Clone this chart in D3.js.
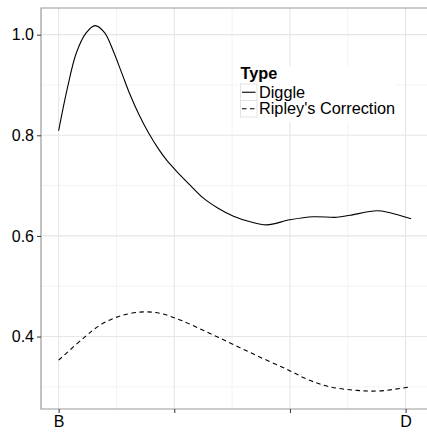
<!DOCTYPE html>
<html>
<head>
<meta charset="utf-8">
<script src="https://cdn.jsdelivr.net/npm/d3@7"></script>
<style>
  html, body { margin: 0; background: #fff; overflow: hidden; }
  svg { display: block; }
  text { font-family: "Liberation Sans", Arial, sans-serif; }
</style>
</head>
<body>
<svg id="chart" width="427" height="432"></svg>
<script>
// x positions are in category units: B = 0 ... D = 3
const xTicks = [0, 1, 2, 3];
const xTickLabels = ["B", "", "", "D"];
const yTicks = [0.4, 0.6, 0.8, 1.0];

const diggleX = [0, 0.077, 0.152, 0.236, 0.316, 0.397, 0.475, 0.547, 0.619, 0.691, 0.777, 0.863,
  0.936, 1.022, 1.137, 1.252, 1.379, 1.512, 1.656, 1.80, 2.0, 2.203, 2.405, 2.52, 2.751, 2.866, 3.048];
const diggleY = [0.809, 0.895, 0.963, 1.003, 1.018, 1.004, 0.966, 0.923, 0.880, 0.843, 0.805, 0.773,
  0.750, 0.728, 0.701, 0.675, 0.655, 0.639, 0.628, 0.622, 0.632, 0.638, 0.637, 0.641, 0.650, 0.646, 0.634];

const ripleyX = [0, 0.215, 0.36, 0.532, 0.734, 0.878, 1.05, 1.282, 1.512, 1.742, 1.973, 2.16,
  2.347, 2.578, 2.78, 3.04];
const ripleyY = [0.353, 0.397, 0.423, 0.441, 0.449, 0.446, 0.433, 0.409, 0.384, 0.359, 0.335, 0.314,
  0.300, 0.293, 0.292, 0.300];

const seriesNames = ["Diggle", "Ripley's Correction"];

const svg = d3.select("#chart");
const pLeft = 41, pRight = 429, pTop = 8, pBottom = 409;
const drawRight = 460; // panel continues past the picture's right edge

const x = d3.scaleLinear().domain([-0.1525, 3.2025]).range([pLeft, pRight]);
const y = d3.scaleLinear().domain([0.256, 1.053]).range([pBottom, pTop]);

// grid
const grid = svg.append("g");
const minorY = [0.3, 0.5, 0.7, 0.9];
const minorX = [0.5, 1.5, 2.5];
grid.selectAll(".ymin").data(minorY).enter().append("line")
  .attr("x1", pLeft).attr("x2", drawRight)
  .attr("y1", d => y(d)).attr("y2", d => y(d))
  .attr("stroke", "#f3f3f3").attr("stroke-width", 1);
grid.selectAll(".xmin").data(minorX).enter().append("line")
  .attr("x1", d => x(d)).attr("x2", d => x(d))
  .attr("y1", pTop).attr("y2", pBottom)
  .attr("stroke", "#f3f3f3").attr("stroke-width", 1);
grid.selectAll(".ymaj").data(yTicks).enter().append("line")
  .attr("x1", pLeft).attr("x2", drawRight)
  .attr("y1", d => y(d)).attr("y2", d => y(d))
  .attr("stroke", "#e6e6e6").attr("stroke-width", 1.1);
grid.selectAll(".xmaj").data(xTicks).enter().append("line")
  .attr("x1", d => x(d)).attr("x2", d => x(d))
  .attr("y1", pTop).attr("y2", pBottom)
  .attr("stroke", "#e6e6e6").attr("stroke-width", 1.1);

// lines
const line = d3.line()
  .x(d => x(d[0]))
  .y(d => y(d[1]))
  .curve(d3.curveCatmullRom.alpha(0.5));

svg.append("path")
  .datum(diggleX.map((v, i) => [v, diggleY[i]]))
  .attr("d", line)
  .attr("fill", "none").attr("stroke", "#000").attr("stroke-width", 1.1);

svg.append("path")
  .datum(ripleyX.map((v, i) => [v, ripleyY[i]]))
  .attr("d", line)
  .attr("fill", "none").attr("stroke", "#000").attr("stroke-width", 1.1)
  .attr("stroke-dasharray", "4.5,3.5");

// panel border (right side runs off the picture)
svg.append("path")
  .attr("d", `M${drawRight},${pTop}H${pLeft}V${pBottom}H${drawRight}`)
  .attr("fill", "none").attr("stroke", "#9a9a9a").attr("stroke-width", 1.2);

// axes
const yAxis = d3.axisLeft(y).tickValues(yTicks).tickFormat(d3.format(".1f")).tickSize(4).tickPadding(3);
const gy = svg.append("g").attr("transform", `translate(${pLeft},0)`).call(yAxis);
const xAxis = d3.axisBottom(x).tickValues(xTicks).tickFormat((d, i) => xTickLabels[i]).tickSize(4).tickPadding(3);
const gx = svg.append("g").attr("transform", `translate(0,${pBottom})`).call(xAxis);
[gx, gy].forEach(g => {
  g.select(".domain").remove();
  g.selectAll(".tick line").attr("stroke", "#333");
  g.selectAll(".tick text").attr("fill", "#000").style("font-size", "16px")
    .style("font-family", "'Liberation Sans', Arial, sans-serif");
});

// legend
const lg = svg.append("g").attr("transform", "translate(237,66)");
lg.append("rect").attr("width", 159).attr("height", 56).attr("fill", "#fff");
lg.append("text").attr("x", 3.5).attr("y", 12.5)
  .style("font-size", "16.3px").style("font-weight", "bold").text("Type");
seriesNames.forEach((name, i) => {
  const ky = 18 + i * 16.5;
  lg.append("rect").attr("x", 3.5).attr("y", ky).attr("width", 16.5).attr("height", 16.5)
    .attr("fill", "#fff").attr("stroke", "#dcdcdc").attr("stroke-width", 0.8);
  lg.append("line").attr("x1", 5).attr("x2", 18.5)
    .attr("y1", ky + 8.25).attr("y2", ky + 8.25)
    .attr("stroke", "#000").attr("stroke-width", 1.1)
    .attr("stroke-dasharray", i === 1 ? "4.5,3.5" : null);
  lg.append("text").attr("x", 22).attr("y", ky + 13.5)
    .style("font-size", "16.3px").text(name);
});
</script>
</body>
</html>
